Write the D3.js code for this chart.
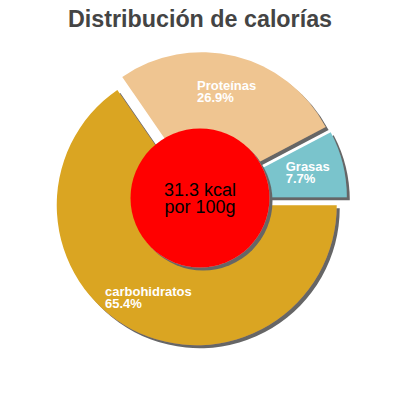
<!DOCTYPE html>
<html>
<head>
  <meta charset="utf8" />
  <style>
    body {
      margin: 0;
      background: #fff;
    }
    text {
      font-family: "Liberation Sans", Arial, sans-serif;
    }
    .title {
      font-size: 23.3px;
      font-weight: bold;
      fill: #444;
      text-anchor: middle;
    }
    .label {
      font-size: 13px;
      font-weight: bold;
      fill: #fff;
    }
    .center {
      font-size: 18px;
      fill: #000;
      text-anchor: middle;
    }
  </style>
</head>
<body>
  <script src="https://d3js.org/d3.v7.min.js"></script>
  <script>
    var categories = ["Grasas", "Proteínas", "carbohidratos"],
        percents = [7.7, 26.9, 65.4],
        colors = ["#7ac4cc", "#efc591", "#daa520"],
        centerLines = ["31.3 kcal", "por 100g"],
        title = "Distribución de calorías";

    var width = 400,
        height = 400,
        center = [200, 199],
        radius = 140,
        explode = 7,
        labelRadius = 104;

    var svg = d3.select("body").append("svg")
        .attr("width", width)
        .attr("height", height);

    var filter = svg.append("defs").append("filter")
        .attr("id", "shadow")
        .attr("x", "-10%").attr("y", "-10%")
        .attr("width", "130%").attr("height", "130%");
    filter.append("feDropShadow")
        .attr("dx", 3).attr("dy", 3)
        .attr("stdDeviation", 0.4)
        .attr("flood-color", "#666")
        .attr("flood-opacity", 1);

    svg.append("text")
        .attr("class", "title")
        .attr("x", width / 2)
        .attr("y", 27)
        .text(title);

    // start at 3 o'clock and go counter-clockwise
    var pie = d3.pie()
        .sort(null)
        .value(d => d)
        .startAngle(Math.PI / 2)
        .endAngle(Math.PI / 2 - 2 * Math.PI);

    var arc = d3.arc().innerRadius(0).outerRadius(radius);
    var arcs = pie(percents);

    function mid(d) {
      return (d.startAngle + d.endAngle) / 2;
    }

    var g = svg.append("g")
        .attr("transform", "translate(" + center + ")");

    var slices = g.selectAll(".slice")
        .data(arcs)
      .enter().append("g")
        .attr("class", "slice")
        .attr("transform", d => {
          var a = mid(d);
          return "translate(" + [explode * Math.sin(a), -explode * Math.cos(a)] + ")";
        });

    slices.append("path")
        .attr("d", arc)
        .attr("fill", (d, i) => colors[i])
        .attr("filter", "url(#shadow)");

    var labels = slices.append("text")
        .attr("class", "label");

    labels.append("tspan")
        .attr("x", 0).attr("dy", 0)
        .text((d, i) => categories[i]);
    labels.append("tspan")
        .attr("x", 0).attr("dy", 11.5)
        .text((d, i) => percents[i] + "%");

    labels.each(function(d) {
      var a = mid(d),
          w = this.getBBox().width,
          px = labelRadius * Math.sin(a),
          py = -labelRadius * Math.cos(a);
      d3.select(this).attr("transform", "translate(" + [px - w / 2, py - 1] + ")");
    });

    g.append("circle")
        .attr("cx", 0)
        .attr("cy", -1)
        .attr("r", 69.5)
        .attr("fill", "#ff0000")
        .attr("filter", "url(#shadow)");

    g.append("text")
        .attr("class", "center")
        .selectAll("tspan")
        .data(centerLines)
      .enter().append("tspan")
        .attr("x", 0)
        .attr("y", (d, i) => -3.3 + i * 17)
        .text(d => d);
  </script>
</body>
</html>
